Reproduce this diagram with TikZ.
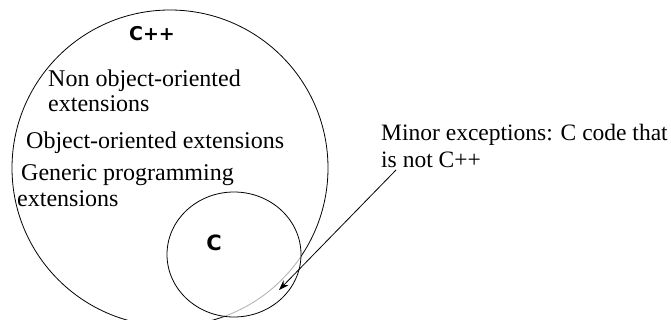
\documentclass[tikz,border=0pt]{standalone}
\usepackage{fontspec}
\setmainfont{Liberation Serif}
\newfontfamily\setnamefont{DejaVu Sans}
\usetikzlibrary{shapes.geometric,arrows.meta}

\begin{document}
\begin{tikzpicture}[x=1pt, y=-1pt,
  setline/.style={draw, ellipse, line width=0.8pt, inner sep=0pt},
  txt/.style={anchor=base west, inner sep=0pt, font=\fontsize{24}{27}\selectfont},
  setname/.style={inner sep=0pt, font=\setnamefont\bfseries\fontsize{19}{19}\selectfont},
  arr/.style={-{Stealth[length=10pt,width=7pt]}, line width=0.8pt}
]
  \clip (0,0) rectangle (671,320);

  % C++ set, the part inside C in grey
  \node[setline, minimum width=316, minimum height=316] (cppset) at (170,168) {};
  \begin{scope}
    \clip (234,254.5) ellipse [x radius=67, y radius=62.5];
    \draw[white, line width=2pt] (170,168) ellipse [x radius=158, y radius=158];
    \draw[gray!60, line width=0.8pt] (170,168) ellipse [x radius=158, y radius=158];
  \end{scope}
  \node[setline, minimum width=134, minimum height=125] (cset) at (234,254.5) {};

  \node[setname] (cpplabel) at (152,34) {C++};
  \node[setname, font=\setnamefont\bfseries\fontsize{21}{21}\selectfont] (clabel) at (214,243) {C};

  % extensions
  \node[txt] (nonoo) at (48,87) {Non object-oriented};
  \node[txt] (nonooext) at (48,112) {extensions};
  \node[txt] (oo) at (26,149) {Object-oriented extensions};
  \node[txt] (generic) at (21,181) {Generic programming};
  \node[txt] (genericext) at (17,207) {extensions};

  % exceptions
  \node[txt, font=\fontsize{23.5}{27}\selectfont] (minor) at (381,141) {Minor exceptions: C code that};
  \node[txt, font=\fontsize{23.5}{27}\selectfont] (minorlast) at (381,168) {is not C++};
  \coordinate (arrstart) at (396,170);
  \coordinate (arrtip) at (279,290);
  \draw[arr] (arrstart) -- (arrtip);
\end{tikzpicture}
\end{document}
